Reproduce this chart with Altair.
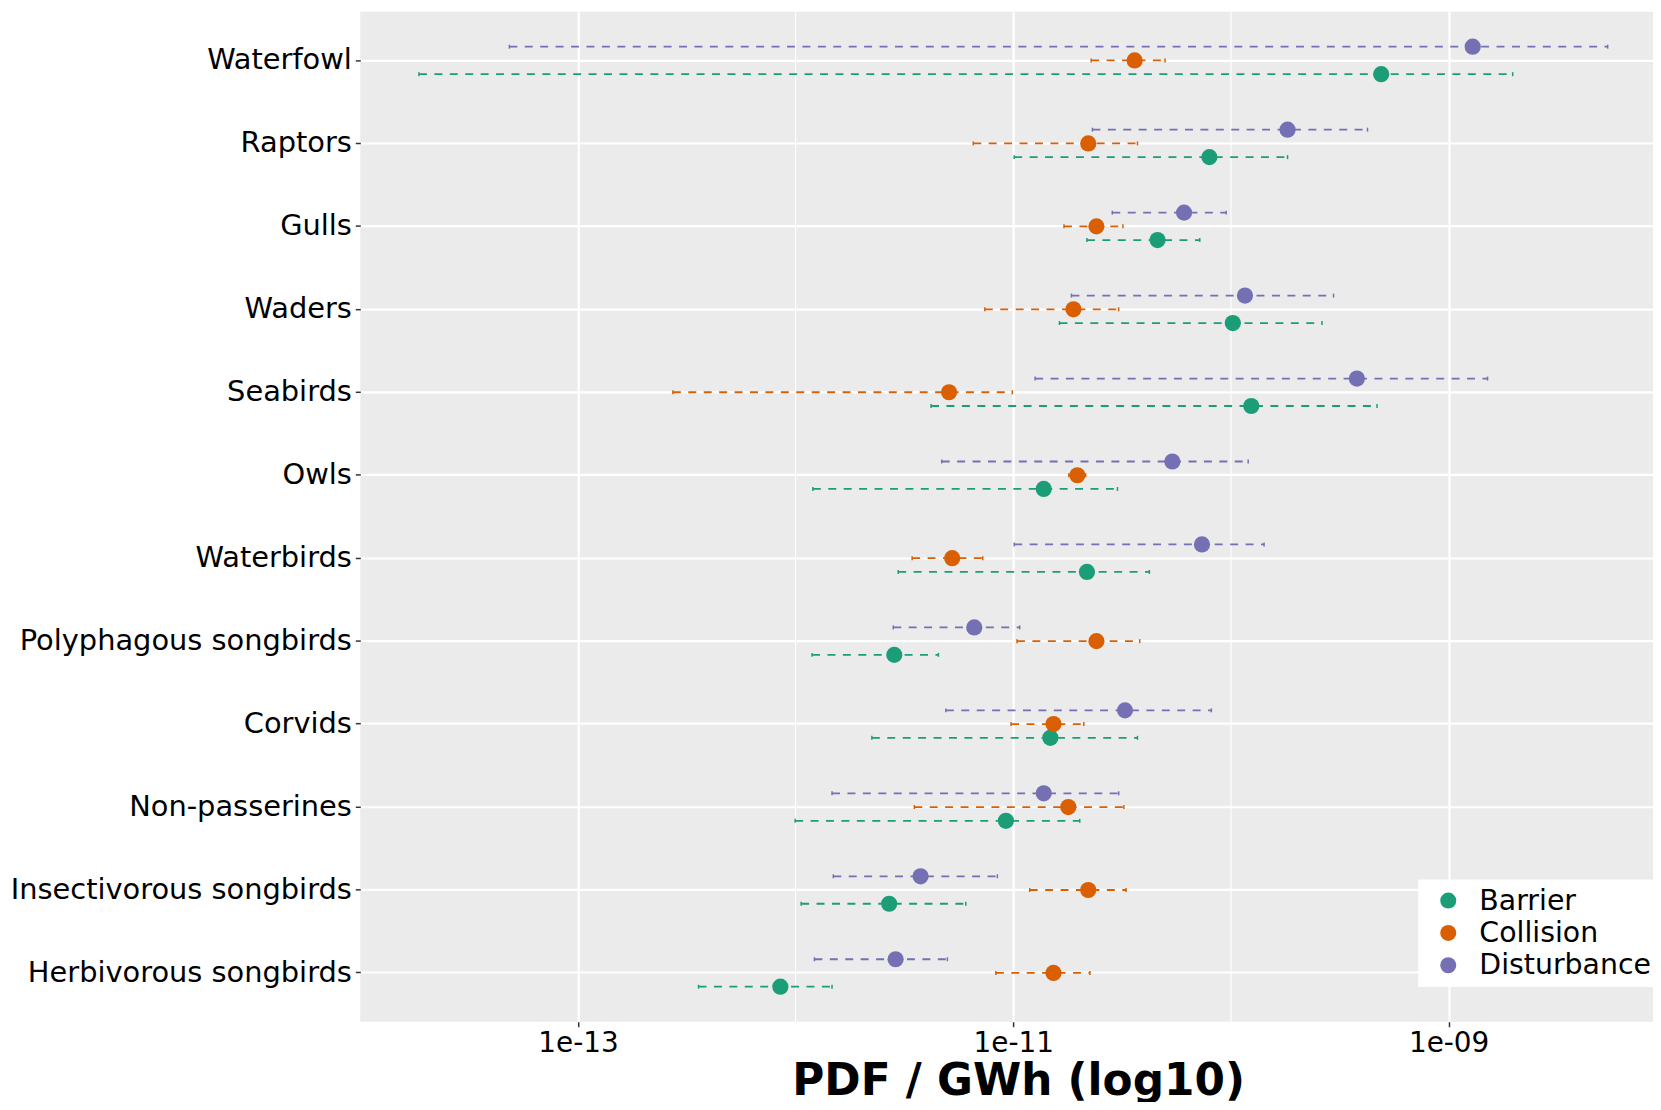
import math
import altair as alt
import pandas as pd

categories = ["Waterfowl", "Raptors", "Gulls", "Waders", "Seabirds", "Owls",
              "Waterbirds", "Polyphagous songbirds", "Corvids", "Non-passerines",
              "Insectivorous songbirds", "Herbivorous songbirds"]
series = ["Barrier", "Collision", "Disturbance"]
series_colors = ["#1B9E77", "#D95F02", "#7570B3"]
stack_order = ["Disturbance", "Collision", "Barrier"]

barrier_mid = [4.90e-10, 7.96e-11, 4.60e-11, 1.02e-10, 1.24e-10, 1.38e-11,
               2.18e-11, 2.84e-12, 1.48e-11, 9.25e-12, 2.69e-12, 8.51e-13]
barrier_lo = [1.86e-14, 1.01e-11, 2.18e-11, 1.63e-11, 4.19e-12, 1.20e-12,
              2.96e-12, 1.19e-12, 2.24e-12, 9.95e-13, 1.06e-12, 3.58e-13]
barrier_hi = [1.97e-9, 1.82e-10, 7.19e-11, 2.62e-10, 4.69e-10, 3.01e-11,
              4.22e-11, 4.53e-12, 3.72e-11, 2.02e-11, 6.05e-12, 1.47e-12]

collision_mid = [3.61e-11, 2.21e-11, 2.41e-11, 1.89e-11, 5.07e-12, 1.97e-11,
                 5.24e-12, 2.41e-11, 1.53e-11, 1.79e-11, 2.21e-11, 1.53e-11]
collision_lo = [2.28e-11, 6.55e-12, 1.71e-11, 7.40e-12, 2.73e-13, 1.80e-11,
                3.43e-12, 1.04e-11, 9.77e-12, 3.51e-12, 1.19e-11, 8.32e-12]
collision_hi = [4.98e-11, 3.72e-11, 3.19e-11, 3.05e-11, 9.89e-12, 2.15e-11,
                7.24e-12, 3.81e-11, 2.11e-11, 3.22e-11, 3.30e-11, 2.25e-11]

disturbance_mid = [1.29e-9, 1.82e-10, 6.09e-11, 1.16e-10, 3.79e-10, 5.38e-11,
                   7.36e-11, 6.62e-12, 3.26e-11, 1.38e-11, 3.75e-12, 2.88e-12]
disturbance_lo = [4.84e-14, 2.31e-11, 2.85e-11, 1.85e-11, 1.26e-11, 4.69e-12,
                  1.01e-11, 2.81e-12, 4.90e-12, 1.47e-12, 1.49e-12, 1.22e-12]
disturbance_hi = [5.38e-9, 4.24e-10, 9.51e-11, 2.96e-10, 1.51e-9, 1.20e-10,
                  1.42e-10, 1.07e-11, 8.13e-11, 3.05e-11, 8.45e-12, 4.98e-12]

major_ticks = [1e-13, 1e-11, 1e-9]
tick_labels = ["1e-13", "1e-11", "1e-09"]
minor_ticks = [1e-12, 1e-10]
x_domain = [1e-14, 8.69e-9]

values = {
    "Barrier": (barrier_mid, barrier_lo, barrier_hi),
    "Collision": (collision_mid, collision_lo, collision_hi),
    "Disturbance": (disturbance_mid, disturbance_lo, disturbance_hi),
}
rows = []
for s in series:
    mid, lo, hi = values[s]
    for i, c in enumerate(categories):
        rows.append({"category": c, "series": s, "mid": mid[i], "lo": lo[i], "hi": hi[i]})
df = pd.DataFrame(rows)
minor_df = pd.DataFrame({"v": minor_ticks})

FONT = "DejaVu Sans"

label_expr = ""
for v, lab in zip(major_ticks, tick_labels):
    label_expr += f"abs(log(datum.value)/LN10 - ({math.log10(v)})) < 0.01 ? '{lab}' : "
label_expr += "''"

xscale = alt.Scale(type="log", domain=x_domain, nice=False, zero=False)
xaxis = alt.Axis(title="PDF / GWh (log10)", values=major_ticks, labelExpr=label_expr,
                 grid=True, gridColor="white", gridWidth=2.2, domain=False,
                 tickColor="#333333", tickSize=5, tickWidth=1.5,
                 labelFont=FONT, labelFontSize=28, labelColor="black", labelPadding=3,
                 titleFont=FONT, titleFontSize=44, titleFontWeight="bold", titleColor="black",
                 titleBaseline="alphabetic", titleY=73, titleX=661, titleAlign="center")

yenc = alt.Y("category:N", sort=categories,
             scale=alt.Scale(type="band", paddingInner=0, paddingOuter=0.088),
             axis=alt.Axis(title=None, bandPosition=0.5, grid=True, gridColor="white",
                           gridWidth=2.2, domain=False, tickColor="#333333", tickSize=5,
                           tickWidth=1.5, labelFont=FONT, labelFontSize=29,
                           labelColor="black", labelPadding=4, labelLimit=800))
yoff = alt.YOffset("series:N", scale=alt.Scale(type="point", domain=stack_order,
                                                range=[27.9, 55.5], padding=0))

legend = alt.Legend(title=None, orient="none", legendX=1063, legendY=872,
                    fillColor="white", padding=7, symbolType="circle",
                    symbolSize=260, symbolOffset=9, labelOffset=17, labelLimit=400,
                    labelFont=FONT, labelFontSize=28.5, labelColor="black",
                    rowPadding=3.5, symbolStrokeWidth=0, symbolOpacity=1)
cenc = alt.Color("series:N", scale=alt.Scale(domain=series, range=series_colors), legend=legend)

minor = alt.Chart(minor_df).mark_rule(color="white", strokeWidth=1.1).encode(
    x=alt.X("v:Q", scale=xscale, axis=xaxis)
)

rules = alt.Chart(df).mark_rule(strokeDash=[8, 7.5], strokeWidth=1.8).encode(
    x=alt.X("lo:Q", scale=xscale, axis=xaxis),
    x2="hi:Q",
    y=yenc,
    yOffset=yoff,
    color=cenc,
)

caps_lo = alt.Chart(df).mark_tick(size=4, thickness=1.5, opacity=1).encode(
    x=alt.X("lo:Q", scale=xscale, axis=xaxis),
    y=yenc,
    yOffset=yoff,
    color=cenc,
)
caps_hi = alt.Chart(df).mark_tick(size=4, thickness=1.5, opacity=1).encode(
    x=alt.X("hi:Q", scale=xscale, axis=xaxis),
    y=yenc,
    yOffset=yoff,
    color=cenc,
)

points = alt.Chart(df).mark_circle(size=265, opacity=1).encode(
    x=alt.X("mid:Q", scale=xscale, axis=xaxis),
    y=yenc,
    yOffset=yoff,
    color=cenc,
)

chart = alt.layer(minor, rules, caps_lo, caps_hi, points).properties(
    width=1299, height=1015,
    autosize=alt.AutoSizeParams(type="none"),
    padding={"left": 354, "top": 1, "right": 0, "bottom": 78},
).configure_view(fill="#EBEBEB", stroke=None)

chart.save("out.html", embed_options={"renderer": "svg", "actions": False})
